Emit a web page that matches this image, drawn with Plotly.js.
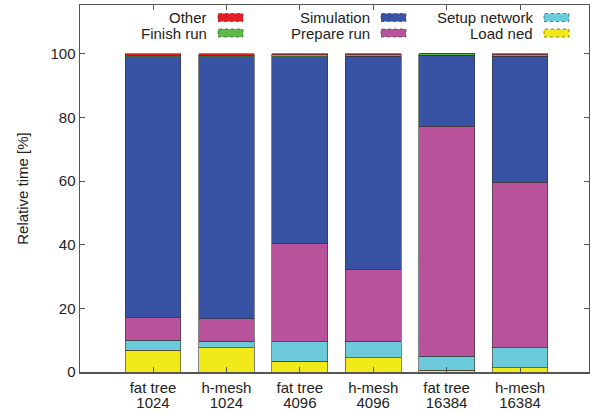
<!DOCTYPE html>
<html>
<head>
<meta charset="utf-8">
<script src="https://cdn.plot.ly/plotly-3.0.1.min.js"></script>
<style>html,body{margin:0;padding:0;background:#fff}#chart{width:590px;height:413px}</style>
</head>
<body>
<div id="chart"></div>
<script>
var categoryNetworks = ["fat tree", "h-mesh", "fat tree", "h-mesh", "fat tree", "h-mesh"];
var categorySizes    = ["1024", "1024", "4096", "4096", "16384", "16384"];
var loadNed      = [6.9, 7.6, 3.4, 4.5, 0.6, 1.4];
var setupNetwork = [3.1, 2.1, 6.1, 5.1, 4.4, 6.3];
var prepareRun   = [7.1, 7.1, 30.9, 22.6, 72.2, 52.0];
var simulation   = [82.1, 82.4, 58.8, 67.1, 22.4, 39.6];
var finishRun    = [0.3, 0.3, 0.5, 0.4, 0.4, 0.4];
var other        = [0.5, 0.5, 0.3, 0.3, 0.0, 0.3];

var seriesNames  = ["Load ned", "Setup network", "Prepare run", "Simulation", "Finish run", "Other"];
var seriesValues = [loadNed, setupNetwork, prepareRun, simulation, finishRun, other];
var seriesColors = ["#f2e919", "#6ccbda", "#b8529b", "#3953a4", "#5cb946", "#e41e25"];

var FONT = 'Liberation Sans, Arial, Helvetica, sans-serif';
var xs = categoryNetworks.map(function(_, i){ return i; });
var traces = seriesNames.map(function(n, k){
  return {
    type: 'bar', name: n, x: xs, y: seriesValues[k], width: 0.76,
    marker: {color: seriesColors[k], line: {color: 'rgba(50,50,50,0.75)', width: 0.8}},
    showlegend: false, hoverinfo: 'skip'
  };
});
// invisible trace to carry the second line of category labels
traces.push({type: 'scatter', mode: 'markers', x: xs, y: xs.map(function(){ return 0; }),
  xaxis: 'x2', yaxis: 'y', marker: {opacity: 0}, showlegend: false, hoverinfo: 'skip'});

// gnuplot-style key: right-aligned text followed by a swatch
var keyItems = [
  {name: "Other", col: 0, row: 0, c: 5},
  {name: "Finish run", col: 0, row: 1, c: 4},
  {name: "Simulation", col: 1, row: 0, c: 3},
  {name: "Prepare run", col: 1, row: 1, c: 2},
  {name: "Setup network", col: 2, row: 0, c: 1},
  {name: "Load ned", col: 2, row: 1, c: 0}
];
var colTextRight = [209, 372, 535];
var rowY = [17.5, 33];
var annotations = [], shapes = [];
keyItems.forEach(function(it){
  var xr = colTextRight[it.col], yc = rowY[it.row];
  annotations.push({
    xref: 'paper', yref: 'paper',
    x: (xr - 80) / 509, y: (413 - 41 - yc) / 367,
    xanchor: 'right', yanchor: 'middle', showarrow: false,
    text: it.name,
    font: {family: FONT, size: 15, color: '#222'}
  });
  shapes.push({
    type: 'rect', xref: 'paper', yref: 'paper',
    x0: (xr + 9 - 80) / 509, x1: (xr + 34 - 80) / 509,
    y0: (413 - 41 - (yc + 4)) / 367, y1: (413 - 41 - (yc - 4)) / 367,
    fillcolor: seriesColors[it.c], line: {color: 'rgba(50,50,50,0.75)', width: 0.8, dash: 'dot'}
  });
});

var xRange = [-0.995, 5.94];
var layout = {
  width: 590, height: 413,
  margin: {l: 80, r: 1, t: 5, b: 41},
  barmode: 'stack',
  paper_bgcolor: '#fff', plot_bgcolor: '#fff',
  font: {family: FONT, size: 15, color: '#222'},
  showlegend: false,
  xaxis: {
    range: xRange, tickmode: 'array', tickvals: xs, ticktext: categoryNetworks,
    ticks: 'inside', ticklen: 5, tickcolor: '#555', mirror: 'ticks',
    showline: true, linecolor: '#555', linewidth: 1.5, showgrid: false, zeroline: false,
    ticklabelstandoff: 1,
    tickfont: {family: FONT, size: 15, color: '#222'}
  },
  xaxis2: {
    range: xRange, overlaying: 'x', anchor: 'y', side: 'bottom',
    tickmode: 'array', tickvals: xs, ticktext: categorySizes,
    ticks: '', ticklabelstandoff: 20,
    showline: false, showgrid: false, zeroline: false,
    tickfont: {family: FONT, size: 15, color: '#222'}
  },
  yaxis: {
    range: [0, 115.4], tickvals: [0, 20, 40, 60, 80, 100],
    ticks: 'inside', ticklen: 5, tickcolor: '#555', mirror: 'ticks',
    showline: true, linecolor: '#555', linewidth: 1.5, showgrid: false, zeroline: false,
    tickfont: {family: FONT, size: 15, color: '#222'},
    title: {text: 'Relative time [%]', font: {family: FONT, size: 15, color: '#222'}, standoff: 18}
  },
  annotations: annotations,
  shapes: shapes
};

Plotly.newPlot('chart', traces, layout, {staticPlot: true, displayModeBar: false});
</script>
</body>
</html>
